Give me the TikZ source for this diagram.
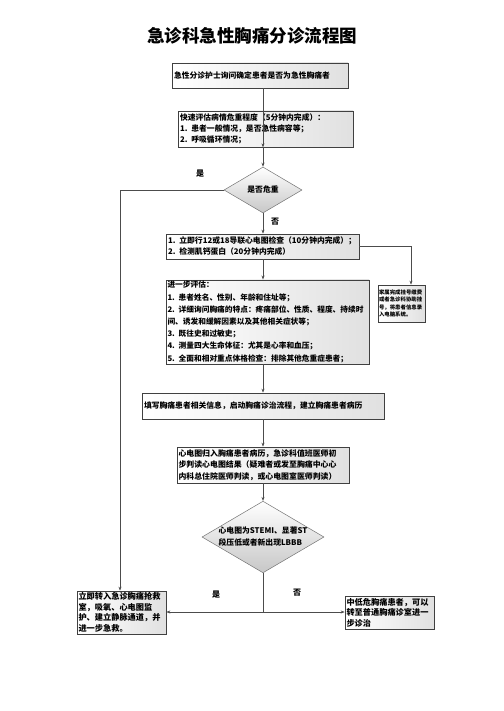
\documentclass[tikz,border=0pt]{standalone}
\usepackage{fontspec}
\setmainfont{Noto Sans CJK SC}
\usetikzlibrary{arrows.meta,shapes.geometric,calc}
\begin{document}
\begin{tikzpicture}[x=1pt,y=-1pt,
  boxstyle/.style={draw=black!75,line width=0.7pt,left color=white,right color=black!12,
    inner sep=2pt,align=left,font=\fontsize{7.8}{12}\selectfont\bfseries,rectangle},
  decstyle/.style={draw=black!55,line width=0.5pt,diamond,aspect=1.7,top color=white,bottom color=black!22,
    inner sep=0pt,align=left,font=\fontsize{7.8}{12}\selectfont\bfseries},
  conn/.style={draw=black!70,line width=0.6pt,-{Stealth[length=4pt,width=3pt]}},
  plain/.style={draw=black!70,line width=0.6pt},
  lab/.style={font=\fontsize{8}{10}\selectfont\bfseries,inner sep=0pt}]
\useasboundingbox (0,0) rectangle (503,711);
\node[font=\fontsize{17.5}{20}\selectfont\bfseries] (title) at (252,36) {急诊科急性胸痛分诊流程图};
\node[boxstyle,minimum width=176pt,minimum height=25pt,text width=172pt] (b1) at (260,75.5)
  {急性分诊护士询问确定患者是否为急性胸痛者};
\node[boxstyle,minimum width=175pt,minimum height=36pt,text width=171pt,font=\fontsize{7.8}{11}\selectfont\bfseries] (b2) at (265.5,129)
  {快速评估病情危重程度（5分钟内完成）：\\1. 患者一般情况，是否急性病容等；\\2. 呼吸循环情况；};
\node[decstyle,minimum width=78pt,minimum height=46pt] (d1) at (263,190) {是否危重};
\node[boxstyle,minimum width=193pt,minimum height=25pt,text width=189pt,font=\fontsize{7.8}{11}\selectfont\bfseries] (b3) at (262.5,246.5)
  {1. 立即行12或18导联心电图检查（10分钟内完成）；\\2. 检测肌钙蛋白（20分钟内完成）};
\node[boxstyle,minimum width=47pt,minimum height=37pt,text width=45pt,inner sep=1pt,font=\fontsize{5.4}{7.6}\selectfont\bfseries] (fam) at (401.5,303.5)
  {家属完成挂号缴费\\或者急诊科协助挂\\号，将患者信息录\\入电脑系统。};
\node[boxstyle,minimum width=203pt,minimum height=76pt,text width=200pt,inner sep=1.5pt,font=\fontsize{7.7}{12.2}\selectfont\bfseries] (b4) at (267.5,322)
  {进一步评估：\\1. 患者姓名、性别、年龄和住址等；\\2. 详细询问胸痛的特点：疼痛部位、性质、程度、持续时\\间、诱发和缓解因素以及其他相关症状等；\\3. 既往史和过敏史；\\4. 测量四大生命体征：尤其是心率和血压；\\5. 全面和相对重点体格检查：排除其他危重症患者；};
\node[boxstyle,minimum width=242pt,minimum height=26pt,text width=238pt] (b5) at (263,406)
  {填写胸痛患者相关信息，启动胸痛诊治流程，建立胸痛患者病历};
\node[boxstyle,minimum width=172pt,minimum height=36pt,text width=169pt,inner sep=1.5pt,font=\fontsize{7.9}{11.5}\selectfont\bfseries] (b6) at (263,465)
  {心电图归入胸痛患者病历，急诊科值班医师初\\步判读心电图结果（疑难者或发至胸痛中心心\\内科总住院医师判读，或心电图室医师判读）};
\node[decstyle,minimum width=122pt,minimum height=57pt] (d2) at (263,537)
  {心电图为STEMI、显著ST\\段压低或者新出现LBBB};
\node[boxstyle,minimum width=89pt,minimum height=43pt,text width=86pt,inner sep=1.5pt,font=\fontsize{8.2}{10.5}\selectfont\bfseries] (lb) at (121.5,612.5)
  {立即转入急诊胸痛抢救\\室，吸氧、心电图监\\护、建立静脉通道，并\\进一步急救。};
\node[boxstyle,minimum width=89pt,minimum height=33pt,text width=86pt,inner sep=1.5pt,font=\fontsize{8.2}{10.5}\selectfont\bfseries] (rb) at (389.5,612.5)
  {中低危胸痛患者，可以\\转至普通胸痛诊室进一\\步诊治};
\coordinate (j) at (263,612);
% connectors
\draw[conn] (b1.south -| d1) -- (b2.south -| d1 |- b2.north);
\draw[conn] (b2.south -| d1) -- (d1.north);
\draw[conn] (d1.west) -| ([xshift=-1.5pt]lb.north);
\draw[conn] (d1.south) -- (b3.north -| d1);
\draw[conn] (b3.east) -| ([xshift=9.5pt]fam.north);
\draw[conn] (b3.south -| d1) -- (b4.north -| d1);
\draw[conn] (b4.south -| d1) -- (b5.north -| d1);
\draw[conn] (b5.south -| d1) -- (b6.north -| d1);
\draw[conn] (b6.south -| d1) -- (d2.north);
\draw[plain] (d2.south) -- (j);
\draw[conn] (j) -- (lb.east |- j);
\draw[conn] (j) -- (rb.west |- j);
% labels
\node[lab] (y1) at (200,174) {是};
\node[lab] (n1) at (275,222) {否};
\node[lab] (y2) at (216,595) {是};
\node[lab] (n2) at (297,593) {否};
\end{tikzpicture}
\end{document}
